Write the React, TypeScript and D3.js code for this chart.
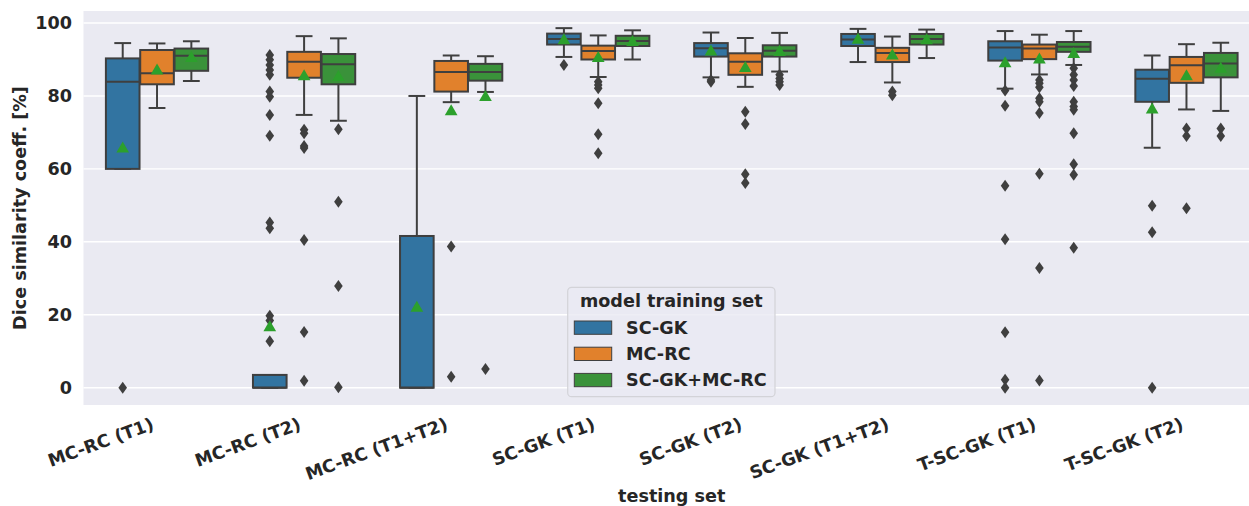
import React from "react";
import * as d3 from "d3";

const categories = ["MC-RC (T1)", "MC-RC (T2)", "MC-RC (T1+T2)", "SC-GK (T1)", "SC-GK (T2)", "SC-GK (T1+T2)", "T-SC-GK (T1)", "T-SC-GK (T2)"];
const hues = ["SC-GK", "MC-RC", "SC-GK+MC-RC"];
const hueColors = ["#3274a1", "#e1812c", "#3a923a"];
const yTicks = [0, 20, 40, 60, 80, 100];

// [whisker low, q1, median, q3, whisker high] per testing set
const scgkStats = [
  [60, 60, 83.9, 90.3, 94.5],
  [0, 0, 0, 3.5, 0],
  [0, 0, 0, 41.6, 80],
  [90.7, 94.1, 95.6, 97.1, 98.6],
  [85.1, 90.8, 93.1, 94.5, 97.4],
  [89.3, 93.7, 95.5, 97.0, 98.4],
  [82.0, 89.7, 93.3, 95.0, 97.8],
  [65.8, 78.4, 84.7, 87.2, 91.1],
];
const mcrcStats = [
  [76.7, 83.2, 86.2, 92.6, 94.4],
  [74.8, 85.0, 89.4, 92.1, 96.4],
  [78.3, 81.2, 86.6, 89.6, 91.1],
  [85.2, 90.0, 92.3, 93.8, 96.6],
  [82.5, 85.8, 89.4, 91.7, 95.9],
  [83.7, 89.3, 91.8, 93.2, 96.3],
  [85.9, 90.1, 93.0, 94.1, 96.8],
  [76.3, 83.6, 88.4, 90.7, 94.2],
];
const bothStats = [
  [84.1, 86.9, 91.0, 93.0, 95.0],
  [73.2, 83.2, 88.7, 91.5, 95.8],
  [81.1, 84.2, 86.6, 88.8, 90.9],
  [90.0, 93.7, 95.1, 96.5, 98.0],
  [86.7, 90.8, 92.4, 93.9, 97.3],
  [90.4, 94.1, 95.6, 97.0, 98.2],
  [88.5, 92.1, 93.5, 94.8, 97.8],
  [75.9, 85.1, 88.9, 91.8, 94.6],
];
const scgkMeans = [65.5, 16.5, 21.8, 95.2, 92.1, 95.3, 88.9, 76.2];
const mcrcMeans = [86.9, 85.3, 75.7, 90.3, 87.6, 91.0, 89.9, 85.3];
const bothMeans = [90.3, 85.1, 79.6, 94.7, 92.0, 95.2, 91.4, 87.4];
const scgkFliers = [
  [0],
  [91.2, 89.9, 88.5, 87.1, 85.8, 81.2, 79.8, 74.8, 69.1, 45.3, 43.7, 19.7, 18.4, 12.7],
  [],
  [88.5],
  [84.4, 83.9],
  [],
  [81.5, 77.3, 55.4, 40.7, 15.2, 2.2, 0],
  [49.9, 42.6, 0],
];
const mcrcFliers = [
  [],
  [70.7, 69.8, 66.3, 65.7, 40.5, 15.3, 1.9],
  [38.7, 3.0],
  [83.9, 83.0, 82.1, 78.0, 69.5, 64.3],
  [75.7, 72.3, 58.5, 56.1],
  [81.2, 80.2],
  [84.4, 83.5, 82.4, 79.4, 78.4, 75.3, 58.7, 32.8, 2.0],
  [71.1, 69.0, 49.2],
];
const bothFliers = [
  [],
  [70.9, 51.0, 27.9, 0.1],
  [5.1],
  [],
  [85.8, 84.8, 83.9, 83.0],
  [],
  [87.6, 85.8, 84.4, 82.7, 78.4, 77.1, 76.2, 69.8, 61.3, 58.4, 38.4],
  [71.1, 69.0],
];

const W = 1249;
const H = 506;
const plotLeft = 83.5;
const plotRight = 1260;
const plotTop = 11;
const plotBottom = 405;
const FONT = "'DejaVu Sans', sans-serif";
const FS = 17.6;
const LINE = "#3f3f3f";

export default function App() {
  const x = d3.scaleBand<string>().domain(categories).range([plotLeft, plotRight]).padding(0);
  const y = d3.scaleLinear().domain([-4.75, 103.3]).range([plotBottom, plotTop]);
  const bw = x.bandwidth();
  const groupW = bw * 0.7;
  const hueW = groupW / hues.length;
  const boxW = hueW * 0.98;
  const stats = [scgkStats, mcrcStats, bothStats];
  const means = [scgkMeans, mcrcMeans, bothMeans];
  const fliers = [scgkFliers, mcrcFliers, bothFliers];

  const tri = d3.symbol().type(d3.symbolTriangle).size(70)();

  const boxes: React.ReactNode[] = [];
  categories.forEach((cat, ci) => {
    const gc = (x(cat) as number) + bw / 2;
    hues.forEach((h, hi) => {
      const cx = gc - groupW / 2 + hueW * (hi + 0.5);
      const [lo, q1, med, q3, hiW] = stats[hi][ci];
      const k = `${ci}-${hi}`;
      boxes.push(
        <g key={k}>
          <line x1={cx} x2={cx} y1={y(q3)} y2={y(hiW)} stroke={LINE} strokeWidth={2} />
          <line x1={cx} x2={cx} y1={y(q1)} y2={y(lo)} stroke={LINE} strokeWidth={2} />
          <line x1={cx - boxW / 4} x2={cx + boxW / 4} y1={y(hiW)} y2={y(hiW)} stroke={LINE} strokeWidth={2} />
          <line x1={cx - boxW / 4} x2={cx + boxW / 4} y1={y(lo)} y2={y(lo)} stroke={LINE} strokeWidth={2} />
          <rect x={cx - boxW / 2} y={y(q3)} width={boxW} height={y(q1) - y(q3)} fill={hueColors[hi]} stroke={LINE} strokeWidth={2} />
          <line x1={cx - boxW / 2} x2={cx + boxW / 2} y1={y(med)} y2={y(med)} stroke={LINE} strokeWidth={2} />
          {fliers[hi][ci].map((v, fi) => (
            <path key={fi} d="M0,-6 L4.3,0 L0,6 L-4.3,0 Z" transform={`translate(${cx},${y(v)})`} fill={LINE} />
          ))}
          <path d={tri as string} transform={`translate(${cx},${y(means[hi][ci])})`} fill="#2ca02c" />
        </g>
      );
    });
  });

  const legX = 567.7;
  const legY = 287.3;

  return (
    <svg width={W} height={H} style={{ position: "absolute", left: 0, top: 0 }} fontFamily={FONT}>
      <rect x={0} y={0} width={W} height={H} fill="#ffffff" />
      <rect x={plotLeft} y={plotTop} width={plotRight - plotLeft} height={plotBottom - plotTop} fill="#eaeaf2" />
      {yTicks.map((t) => (
        <g key={t}>
          <line x1={plotLeft} x2={plotRight} y1={y(t)} y2={y(t)} stroke="#ffffff" strokeWidth={1.4} />
          <text x={72} y={y(t)} dy="0.36em" textAnchor="end" fontSize={FS} fontWeight="bold" fill="#262626">{t}</text>
        </g>
      ))}
      {boxes}
      {categories.map((c) => {
        const cx = (x(c) as number) + bw / 2;
        return (
          <text key={c} transform={`translate(${cx - 2},${429}) rotate(-20)`} textAnchor="end" fontSize={FS} fontWeight="bold" fill="#262626">{c}</text>
        );
      })}
      <text transform={`translate(26,${(plotTop + plotBottom) / 2}) rotate(-90)`} textAnchor="middle" fontSize={FS} fontWeight="bold" fill="#262626">Dice similarity coeff. [%]</text>
      <text x={(plotLeft + plotRight) / 2} y={502} textAnchor="middle" fontSize={FS} fontWeight="bold" fill="#262626">testing set</text>
      <g>
        <rect x={legX} y={legY} width={207.3} height={109.4} rx={4} fill="#eaeaf2" fillOpacity={0.8} stroke="#d3d3d8" strokeWidth={1.2} />
        <text x={legX + 103.6} y={legY + 19.5} textAnchor="middle" fontSize={FS} fontWeight="bold" fill="#262626">model training set</text>
        {hues.map((h, i) => (
          <g key={h}>
            <rect x={574.3} y={321 + i * 26.2} width={37.4} height={13.3} fill={hueColors[i]} stroke={LINE} strokeWidth={1} />
            <text x={626} y={334 + i * 26.2} fontSize={FS} fontWeight="bold" fill="#262626">{h}</text>
          </g>
        ))}
      </g>
    </svg>
  );
}
